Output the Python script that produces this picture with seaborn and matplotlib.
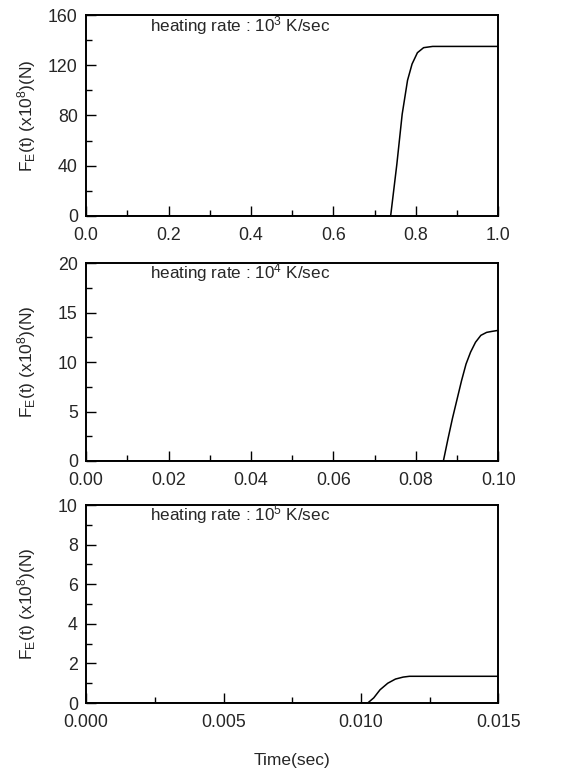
import numpy as np
import pandas as pd
import matplotlib
matplotlib.use("Agg")
import matplotlib.pyplot as plt
from matplotlib.ticker import MultipleLocator, FormatStrFormatter
import seaborn as sns

# heating rate 10^3 K/sec
t_1e3 = [0.0, 0.739, 0.754, 0.767, 0.780, 0.791, 0.804, 0.819, 0.841, 1.0]
f_1e3 = [0.0, 0.0, 41.0, 81.0, 108.0, 121.0, 130.0, 134.0, 135.0, 135.0]

# heating rate 10^4 K/sec
t_1e4 = [0.0, 0.0867, 0.0878, 0.0889, 0.0900, 0.0911, 0.0922, 0.0933,
         0.0945, 0.0958, 0.0972, 0.0985, 0.1]
f_1e4 = [0.0, 0.0, 2.2, 4.3, 6.2, 8.1, 9.8, 11.0, 12.0, 12.7, 13.0, 13.1, 13.2]

# heating rate 10^5 K/sec
t_1e5 = [0.0, 0.01025, 0.01047, 0.0107, 0.01098, 0.01126, 0.01154, 0.01177, 0.015]
f_1e5 = [0.0, 0.0, 0.26, 0.67, 1.0, 1.21, 1.31, 1.35, 1.35]

panels = [
    ("10$^3$", t_1e3, f_1e3, (0, 1.0), 0.2, 0.1, "%.1f", (0, 160), 40, 20),
    ("10$^4$", t_1e4, f_1e4, (0, 0.1), 0.02, 0.01, "%.2f", (0, 20), 5, 2.5),
    ("10$^5$", t_1e5, f_1e5, (0, 0.015), 0.005, 0.0025, "%.3f", (0, 10), 2, 1),
]

sns.set_style("ticks")
plt.rcParams["font.family"] = ["Liberation Sans", "DejaVu Sans"]
plt.rcParams["mathtext.fontset"] = "custom"
plt.rcParams["mathtext.rm"] = "Liberation Sans"
plt.rcParams["mathtext.it"] = "Liberation Sans"

fig = plt.figure(figsize=(5.67, 7.7), dpi=100)
rects = [
    [0.152, 0.7195, 0.7266, 0.261],
    [0.152, 0.4013, 0.7266, 0.257],
    [0.152, 0.0870, 0.7266, 0.257],
]

for rect, (rate, t, f, xlim, xmaj, xmin, xfmt, ylim, ymaj, ymin) in zip(rects, panels):
    ax = fig.add_axes(rect)
    df = pd.DataFrame({"t": t, "F": f})
    sns.lineplot(data=df, x="t", y="F", ax=ax, color="black", lw=1.1)
    ax.set_xlim(*xlim)
    ax.set_ylim(*ylim)
    ax.xaxis.set_major_locator(MultipleLocator(xmaj))
    ax.xaxis.set_minor_locator(MultipleLocator(xmin))
    ax.yaxis.set_major_locator(MultipleLocator(ymaj))
    ax.yaxis.set_minor_locator(MultipleLocator(ymin))
    ax.xaxis.set_major_formatter(FormatStrFormatter(xfmt))
    ax.tick_params(which="both", direction="in", top=False, right=False,
                   labelsize=12.8, width=1.0, color="black")
    ax.tick_params(which="major", length=7)
    ax.tick_params(axis="x", which="major", pad=8)
    ax.tick_params(axis="y", which="major", pad=6)
    ax.tick_params(which="minor", length=4)
    for sp in ax.spines.values():
        sp.set_visible(True)
        sp.set_linewidth(1.4)
        sp.set_color("black")
    ax.text(0.155, 0.95, f"heating rate : {rate} K/sec", transform=ax.transAxes,
            fontsize=12.3, ha="left", va="center")
    ax.set_ylabel(r"F$_\mathrm{E}$(t) (x10$^8$)(N)", fontsize=12.5)
    ax.yaxis.set_label_coords(-0.117, 0.5)
    ax.set_xlabel("")

ax.set_xlabel("Time(sec)", fontsize=12.5, labelpad=16)

fig.savefig("out.png", dpi=100)
